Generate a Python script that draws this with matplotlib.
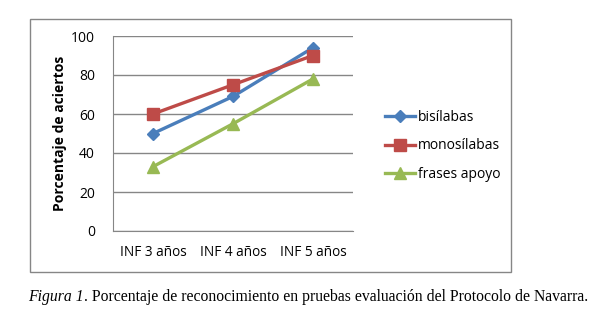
import matplotlib.pyplot as plt
from matplotlib.patches import Rectangle

CATEGORIES = ["INF 3 años", "INF 4 años", "INF 5 años"]
BISILABAS = [50, 69, 94]
MONOSILABAS = [60, 75, 90]
FRASES_APOYO = [33, 55, 78]
Y_TICKS = [0, 20, 40, 60, 80, 100]

SANS = ["Open Sans", "DejaVu Sans"]
SERIF = "Liberation Serif"
GRAY = "#868686"

fig = plt.figure(figsize=(5.99, 3.24), dpi=100)
W, H = 599, 324

# chart frame around plot + legend
fig.patches.append(Rectangle((30 / W, 1 - 272 / H), 481 / W, 253 / H,
                             transform=fig.transFigure, fill=False,
                             edgecolor=GRAY, lw=1.0))

ax = fig.add_axes([113 / W, 1 - 231 / H, 240 / W, 195 / H])
x = [i + 0.5 for i in range(len(CATEGORIES))]

series = [
    ("bisílabas", BISILABAS, "#4A7EBB", "D", 6.5),
    ("monosílabas", MONOSILABAS, "#BE4B48", "s", 8),
    ("frases apoyo", FRASES_APOYO, "#98B954", "^", 8.5),
]
for label, ys, color, marker, ms in series:
    ax.plot(x, ys, color=color, lw=2.4, marker=marker, ms=ms,
            markeredgecolor=color, label=label, zorder=3)

ax.set_xlim(0, 3)
ax.set_ylim(0, 100)
ax.set_yticks(Y_TICKS)
ax.set_xticks(x)
ax.set_xticklabels(CATEGORIES, family=SANS, fontsize=9.8)
for t in ax.get_yticklabels():
    t.set_family(SANS)
    t.set_fontsize(10)
ax.tick_params(axis="y", length=0, pad=13)
ax.tick_params(axis="x", length=0, pad=10)
ax.grid(axis="y", color=GRAY, lw=1.0)
ax.set_axisbelow(True)
for side in ["top", "right"]:
    ax.spines[side].set_visible(False)
for side in ["left", "bottom"]:
    ax.spines[side].set_color(GRAY)
ax.set_ylabel("Porcentaje de aciertos", family=SANS, fontsize=10,
              fontweight="bold", labelpad=3)

fig.legend(loc="upper left", bbox_to_anchor=(372 / W, 1 - 97 / H),
           frameon=False, prop={"family": SANS, "size": 10},
           handlelength=2.2, handletextpad=0.2, labelspacing=1.0)

# caption: italic figure number followed by the roman text
cap_y = 1 - 297 / H
t1 = fig.text(28 / W, cap_y, "Figura 1", style="italic",
              family=SERIF, fontsize=11.3, va="center")
fig.canvas.draw()
bb = t1.get_window_extent()
fig.text(bb.x1 / W + 0.5 / W, cap_y,
         ". Porcentaje de reconocimiento en pruebas evaluación del Protocolo de Navarra.",
         family=SERIF, fontsize=11.3, va="center")

fig.savefig("out.png", dpi=100)
